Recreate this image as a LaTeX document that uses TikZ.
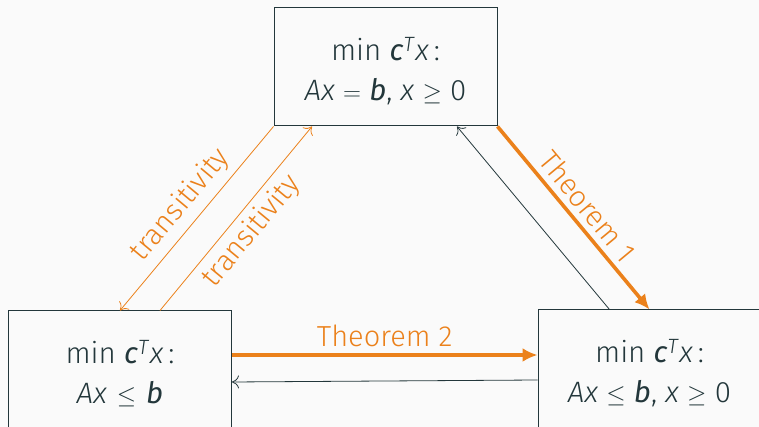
\documentclass[tikz,border=0pt]{standalone}
\usepackage{fontspec}
\setmainfont{Fira Sans Light}[ItalicFont=Fira Sans Light Italic,BoldFont=Fira Sans,BoldItalicFont=Fira Sans Italic]
\usetikzlibrary{arrows.meta,calc}
\definecolor{mDark}{HTML}{23373B}
\definecolor{mOrange}{HTML}{EB811B}
\definecolor{mBg}{HTML}{FAFAFA}
\newcommand{\vb}[1]{\textbf{\textit{#1}}}
\newcommand{\vi}[1]{\textit{#1}}
\tikzset{
  lpbox/.style={draw=mDark, line width=1pt, minimum width=223pt, minimum height=118pt, inner sep=0pt},
  lptext/.style={inner sep=0pt, align=center, text=mDark, font=\fontsize{29.5}{42}\selectfont},
  thickarr/.style={draw=mOrange, line width=3.6pt, -{Latex[length=15pt,width=14pt]}},
  thinorange/.style={draw=mOrange, line width=0.8pt, -{To[length=7pt,width=13pt]}},
  thindark/.style={draw=mDark, line width=0.8pt, -{To[length=7pt,width=13pt]}},
  lbl/.style={text=mOrange, font=\fontsize{29}{34}\selectfont, inner sep=5pt}
}
\begin{document}
\begin{tikzpicture}[x=1pt,y=1pt]
\fill[mBg] (0,0) rectangle (759,427);
\useasboundingbox (0,0) rectangle (759,427);
\node[lpbox] (top) at (385.5,360) {};
\node[lpbox] (left) at (120,57) {};
\node[lpbox] (right) at (649.5,58) {};
\node[lptext] (toptext) at ([yshift=-4pt]top.center) {min \vb{c}\textsuperscript{\vi{T}}\vi{x}\,:\\[-2pt]\vi{Ax} $=$ \vb{b}, \vi{x} $\geq$ 0};
\node[lptext] (lefttext) at ([yshift=-4pt]left.center) {min \vb{c}\textsuperscript{\vi{T}}\vi{x}\,:\\[-2pt]\vi{Ax}\hspace{10pt}$\leq$\hspace{10pt}\vb{b}};
\node[lptext] (righttext) at ([yshift=-4pt]right.center) {min \vb{c}\textsuperscript{\vi{T}}\vi{x}\,:\\[-2pt]\vi{Ax} $\leq$ \vb{b}, \vi{x} $\geq$ 0};
% Theorem 2
\draw[thickarr] ([yshift=15pt]left.east) -- node[lbl, above, yshift=1pt] {Theorem 2} ([yshift=14pt]right.west);
\draw[thindark] ([yshift=-11pt]right.west) -- ([yshift=-12pt]left.east);
% Theorem 1
\draw[thickarr] (top.south east) -- node[lbl, sloped, above, inner sep=6pt] {Theorem 1} (right.north);
\draw[thindark] ([xshift=-40pt]right.north) -- ([xshift=71.5pt]top.south);
% transitivity
\draw[thinorange] (top.south west) -- node[lbl, sloped, above, inner sep=7pt] {transitivity} (left.north);
\draw[thinorange] ([xshift=40pt]left.north) -- node[lbl, sloped, below, inner sep=6pt] {transitivity} ([xshift=-73.5pt]top.south);
\end{tikzpicture}
\end{document}
